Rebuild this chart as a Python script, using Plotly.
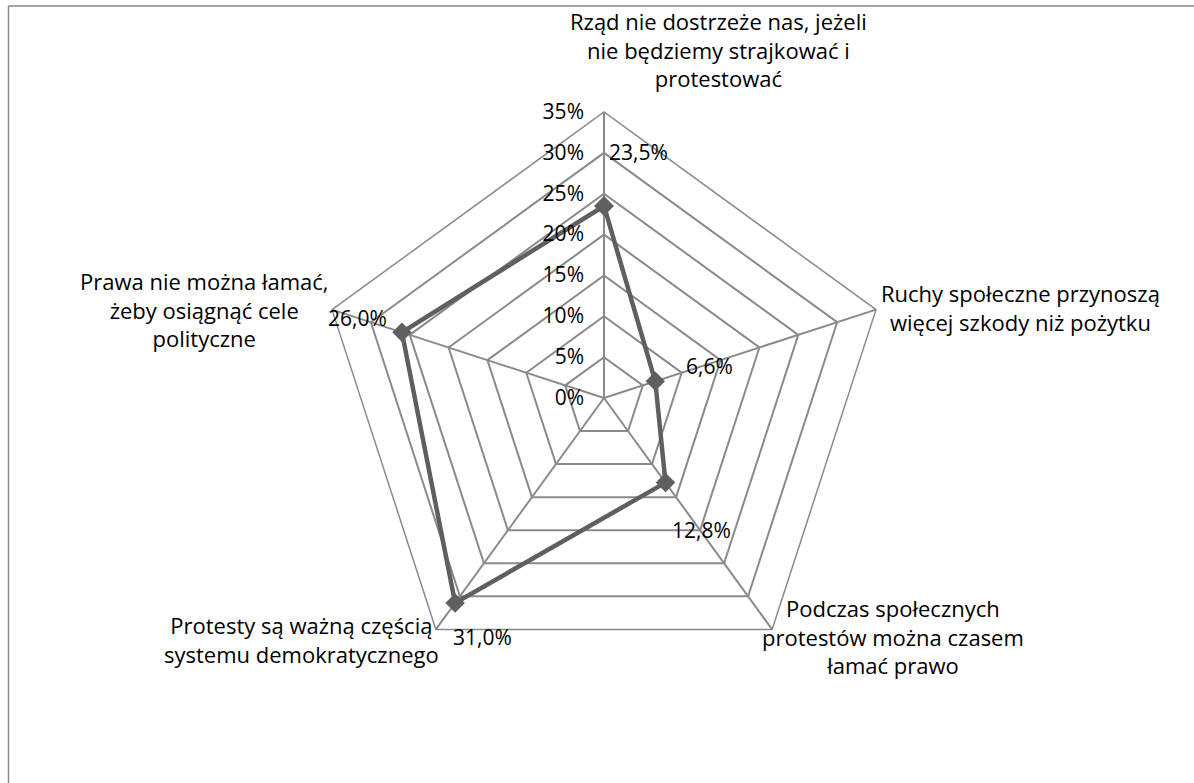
import plotly.graph_objects as go

categories = [
    ["Rząd nie dostrzeże nas, jeżeli", "nie będziemy strajkować i", "protestować"],
    ["Ruchy społeczne przynoszą", "więcej szkody niż pożytku"],
    ["Podczas społecznych", "protestów można czasem", "łamać prawo"],
    ["Protesty są ważną częścią", "systemu demokratycznego"],
    ["Prawa nie można łamać,", "żeby osiągnąć cele", "polityczne"],
]
values = [23.5, 6.6, 12.8, 31.0, 26.0]
value_labels = ["23,5%", "6,6%", "12,8%", "31,0%", "26,0%"]
tick_vals = [0, 5, 10, 15, 20, 25, 30, 35]
tick_text = ["0%", "5%", "10%", "15%", "20%", "25%", "30%", "35%"]

W, H = 1194, 783
cx, cy, R = 604, 398, 286
FONT = "Open Sans"
FS = 22
GRID = "#8a8a8a"
LINE = "#5f5f5f"

theta = [" ".join(c) for c in categories]

fig = go.Figure()
fig.add_trace(go.Scatterpolar(
    r=values + [values[0]],
    theta=theta + [theta[0]],
    mode="lines+markers",
    line=dict(color=LINE, width=4.5),
    marker=dict(symbol="diamond", size=15, color=LINE),
    hoverinfo="skip",
    showlegend=False,
    cliponaxis=False,
))

pad = "\u00a0" * 3
fig.update_layout(
    width=W, height=H,
    paper_bgcolor="white",
    plot_bgcolor="white",
    margin=dict(l=0, r=0, t=0, b=0),
    font=dict(family=FONT, size=FS, color="#000000"),
    polar=dict(
        domain=dict(x=[(cx - R) / W, (cx + R) / W], y=[(H - cy - R) / H, (H - cy + R) / H]),
        gridshape="linear",
        bgcolor="white",
        radialaxis=dict(
            range=[0, 35], tickvals=tick_vals, ticktext=[t + pad for t in tick_text],
            angle=90, side="counterclockwise", tickangle=90,
            showline=False, gridcolor=GRID, gridwidth=1.5,
            ticks="", tickfont=dict(family=FONT, size=21, color="#000000"),
        ),
        angularaxis=dict(
            type="category", categoryarray=theta, showticklabels=False,
            rotation=90, direction="clockwise",
            showline=True, linecolor=GRID, linewidth=1.5,
            gridcolor=GRID, gridwidth=1.5, ticks="",
        ),
    ),
)

# category labels (placed as in the original chart)
label_pos = [(718, 50), (1021, 307), (893, 636), (301, 639), (204, 310)]
for lines, (x, y) in zip(categories, label_pos):
    fig.add_annotation(
        x=x / W, y=1 - y / H, xref="paper", yref="paper",
        text="<br>".join(lines), showarrow=False, align="center",
        xanchor="center", yanchor="middle",
        font=dict(family=FONT, size=FS, color="#000000"),
    )

# data labels (placed as in the original chart)
data_label_pos = [(638, 152), (710, 366), (701, 530), (482, 637), (357, 318)]
for txt, (x, y) in zip(value_labels, data_label_pos):
    fig.add_annotation(
        x=x / W, y=1 - y / H, xref="paper", yref="paper",
        text=txt, showarrow=False, xanchor="center", yanchor="middle",
        font=dict(family=FONT, size=21, color="#000000"),
    )

fig.add_shape(type="line", xref="paper", yref="paper", x0=8.5 / W, x1=1, y0=1 - 6 / H, y1=1 - 6 / H,
              line=dict(color=GRID, width=1.5))
fig.add_shape(type="line", xref="paper", yref="paper", x0=8.5 / W, x1=8.5 / W, y0=0, y1=1 - 6 / H,
              line=dict(color=GRID, width=1.5))

fig.write_html("out.html", config={"displayModeBar": False},
               post_script="document.body.style.margin='0px';document.body.style.overflow='hidden';")
